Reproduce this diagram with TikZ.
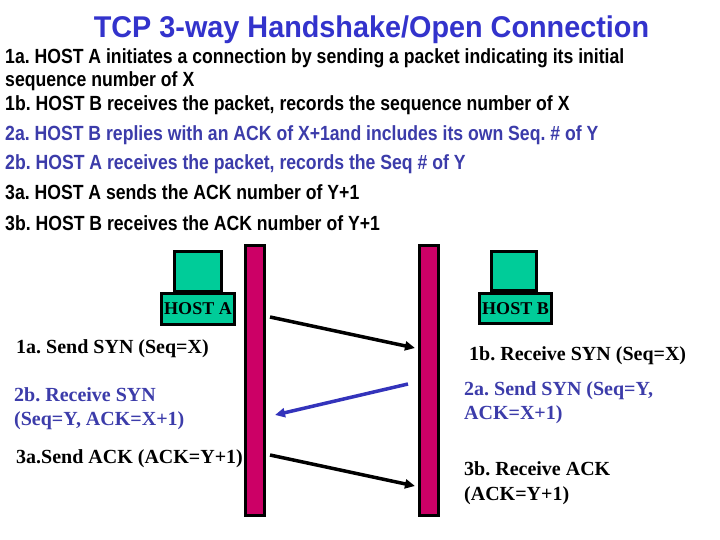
\documentclass[tikz,border=0pt]{standalone}
\usepackage{fontspec}
\setmainfont{Liberation Serif}
\newfontfamily\gothic[FakeStretch=0.86]{Liberation Sans}
\newfontfamily\gothict[FakeStretch=0.96]{Liberation Sans}
\usetikzlibrary{arrows.meta}
\definecolor{titleblue}{RGB}{51,51,204}
\definecolor{txtblue}{RGB}{60,60,170}
\definecolor{arrblue}{RGB}{51,51,187}
\definecolor{hostteal}{RGB}{0,204,153}
\definecolor{barmag}{RGB}{204,0,102}
\frenchspacing
\tikzset{
  titletext/.style={inner sep=0pt, font=\gothict\bfseries\fontsize{30}{34}\selectfont, text=titleblue},
  bodytext/.style={anchor=base west, inner sep=0pt, font=\gothic\bfseries\fontsize{20.5}{24}\selectfont},
  labtext/.style={anchor=base west, inner sep=0pt, font=\bfseries\fontsize{20}{24}\selectfont},
  hostbox/.style={draw=black, line width=3pt, fill=hostteal, inner sep=0pt},
  hostlabel/.style={hostbox, font=\bfseries\fontsize{18}{20}\selectfont},
  lifebar/.style={draw=black, line width=3pt, fill=barmag, inner sep=0pt, minimum width=19pt, minimum height=270pt},
  msg/.style={line width=3.5pt, -{Triangle[length=10pt,width=9pt]}},
}
\begin{document}
\begin{tikzpicture}[x=1pt,y=-1pt]
\useasboundingbox (0,0) rectangle (720,540);
\fill[white] (0,0) rectangle (720,540);
% title
\node[titletext] (title) at (371.5,30) {TCP 3-way Handshake/Open Connection};
% description
\node[bodytext] (d1) at (5,64) {1a. HOST A initiates a connection by sending a packet indicating its initial};
\node[bodytext] (d2) at (5,87) {sequence number of X};
\node[bodytext] (d3) at (5,111) {1b. HOST B receives the packet, records the sequence number of X};
\node[bodytext, text=txtblue] (d4) at (5,141) {2a. HOST B replies with an ACK of X+1and includes its own Seq. \# of Y};
\node[bodytext, text=txtblue] (d5) at (5,170) {2b. HOST A receives the packet, records the Seq \# of Y};
\node[bodytext] (d6) at (5,200) {3a. HOST A sends the ACK number of Y+1};
\node[bodytext] (d7) at (5,230) {3b. HOST B receives the ACK number of Y+1};
% lifelines
\node[lifebar] (barA) at (255,380.5) {};
\node[lifebar] (barB) at (428.5,380.5) {};
% hosts
\node[hostbox, minimum width=47pt, minimum height=40pt] (topA) at (198,271.5) {};
\node[hostlabel, minimum width=73pt, minimum height=31pt] (hostA) at (198,309) {HOST A};
\node[hostbox, minimum width=45pt, minimum height=39pt] (topB) at (514,271) {};
\node[hostlabel, minimum width=72pt, minimum height=30pt] (hostB) at (515.5,308.5) {HOST B};
% labels
\node[labtext] (l1a) at (16,353) {1a. Send SYN (Seq=X)};
\node[labtext] (l1b) at (469,360) {1b. Receive SYN (Seq=X)};
\node[labtext, text=txtblue] (l2a1) at (464,395) {2a. Send SYN (Seq=Y,};
\node[labtext, text=txtblue] (l2a2) at (464,419) {ACK=X+1)};
\node[labtext, text=txtblue] (l2b1) at (14,401) {2b. Receive SYN};
\node[labtext, text=txtblue] (l2b2) at (14,425) {(Seq=Y, ACK=X+1)};
\node[labtext] (l3a) at (16,463) {3a.Send ACK (ACK=Y+1)};
\node[labtext] (l3b1) at (464,475) {3b. Receive ACK};
\node[labtext] (l3b2) at (464,500) {(ACK=Y+1)};
% messages
\coordinate (s1) at (270,317);
\coordinate (e1) at (415,348);
\coordinate (s2) at (408,384);
\coordinate (e2) at (275,415);
\coordinate (s3) at (270,455);
\coordinate (e3) at (415,486);
\draw[msg] (s1) -- (e1);
\draw[msg, arrblue] (s2) -- (e2);
\draw[msg] (s3) -- (e3);
\end{tikzpicture}
\end{document}
